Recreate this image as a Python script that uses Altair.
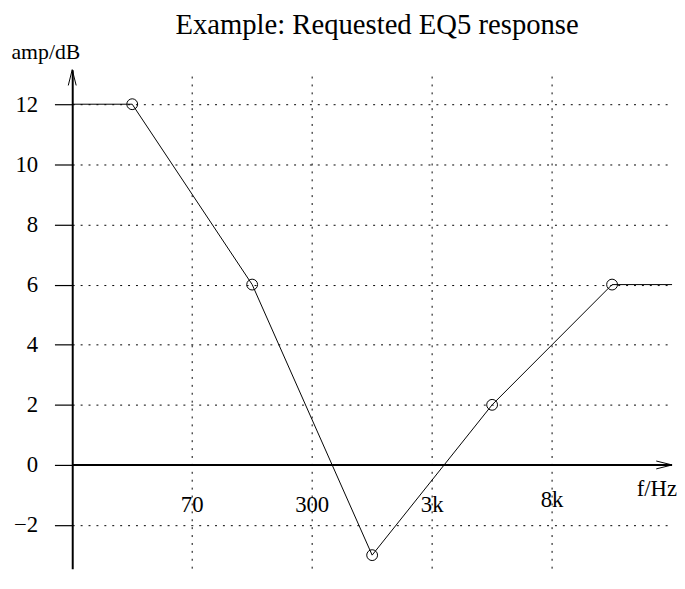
import altair as alt
import pandas as pd

# ---- data ----
tick_labels = ["70", "300", "3k", "8k"]
tick_pos = [1, 2, 3, 4]
raised_labels = ["8k"]
point_pos = [0.5, 1.5, 2.5, 3.5, 4.5]
gains = [12, 6, -3, 2, 6]
y_ticks = [-2, 0, 2, 4, 6, 8, 10, 12]

X_MIN, X_MAX = 0, 5
Y_MIN, Y_MAX = -3.45, 13.15
GRID_TOP = 12.92

W, H = 607, 505
FONT = "Liberation Serif"

xs = alt.Scale(domain=[X_MIN, X_MAX], nice=False, zero=False)
ys = alt.Scale(domain=[Y_MIN, Y_MAX], nice=False, zero=False)

yaxis = alt.Axis(
    values=y_ticks,
    grid=True, gridDash=[2, 6], gridColor="black", gridWidth=1, gridOpacity=1,
    domain=True, domainColor="black", domainWidth=2,
    ticks=True, tickSize=18, tickColor="black", tickWidth=1.2,
    labelFont=FONT, labelFontSize=23, labelColor="black", labelPadding=17,
    title="amp/dB", titleAngle=0, titleAlign="left", titleBaseline="alphabetic",
    titleX=-62, titleY=-11, titleFont=FONT, titleFontSize=22,
    titleFontWeight="normal", titleColor="black",
)


def X(f):
    return alt.X(f, scale=xs, axis=None)


def Y(f):
    return alt.Y(f, scale=ys, axis=yaxis)


line_df = pd.DataFrame({
    "x": [X_MIN] + point_pos + [X_MAX],
    "y": [gains[0]] + gains + [gains[-1]],
})
pts_df = pd.DataFrame({"x": point_pos, "y": gains})
ticks_df = pd.DataFrame({
    "x": tick_pos, "label": tick_labels, "y": [0] * len(tick_pos),
    "top": [GRID_TOP] * len(tick_pos), "bot": [Y_MIN] * len(tick_pos),
    "raised": [lbl in raised_labels for lbl in tick_labels],
})

line = alt.Chart(line_df).mark_line(color="black", strokeWidth=1).encode(
    x=X("x:Q"), y=Y("y:Q"),
)

points = alt.Chart(pts_df).mark_point(
    shape="circle", filled=False, color="black", strokeWidth=1, size=120, opacity=1
).encode(x=X("x:Q"), y=Y("y:Q"))

vgrid = alt.Chart(ticks_df).mark_rule(
    color="black", strokeWidth=1, strokeDash=[2, 6]
).encode(x=X("x:Q"), y=Y("top:Q"), y2="bot:Q")

xaxis_line = alt.Chart(pd.DataFrame({"a": [X_MIN], "b": [X_MAX], "y": [0]})).mark_rule(
    color="black", strokeWidth=2
).encode(x=X("a:Q"), x2="b:Q", y=Y("y:Q"))

arrow_y = alt.Chart(pd.DataFrame({"x": [X_MIN], "y": [Y_MAX]})).mark_point(
    shape="M-0.5,2L0,0L0.5,2", filled=False, color="black", strokeWidth=1,
    size=256, opacity=1,
).encode(x=X("x:Q"), y=Y("y:Q"))

arrow_x = alt.Chart(pd.DataFrame({"x": [X_MAX], "y": [0]})).mark_point(
    shape="M-2,-0.5L0,0L-2,0.5", filled=False, color="black", strokeWidth=1,
    size=256, opacity=1,
).encode(x=X("x:Q"), y=Y("y:Q"))

xlabels = alt.Chart(ticks_df).transform_filter("!datum.raised").mark_text(
    font=FONT, fontSize=23, color="black", baseline="middle", align="center", dy=41
).encode(x=X("x:Q"), y=Y("y:Q"), text="label:N")

xlabels_raised = alt.Chart(ticks_df).transform_filter("datum.raised").mark_text(
    font=FONT, fontSize=23, color="black", baseline="middle", align="center", dy=36
).encode(x=X("x:Q"), y=Y("y:Q"), text="label:N")

xtitle = alt.Chart(pd.DataFrame({"x": [X_MAX], "y": [0], "t": ["f/Hz"]})).mark_text(
    font=FONT, fontSize=23, color="black", align="right", baseline="alphabetic",
    dx=5, dy=31,
).encode(x=X("x:Q"), y=Y("y:Q"), text="t:N")

chart = alt.layer(
    vgrid, xaxis_line, line, points, arrow_y, arrow_x, xlabels, xlabels_raised, xtitle
).properties(
    width=W, height=H,
    title=alt.TitleParams(
        "Example: Requested EQ5 response", font=FONT, fontSize=29,
        fontWeight="normal", color="black", anchor="middle", offset=1, dx=5,
    ),
    autosize=alt.AutoSizeParams(type="none"),
    padding={"left": 65, "top": 59, "right": 5, "bottom": 0},
    background="white",
).configure_view(strokeWidth=0)

chart.save("out.html", embed_options={"renderer": "svg", "actions": False})
